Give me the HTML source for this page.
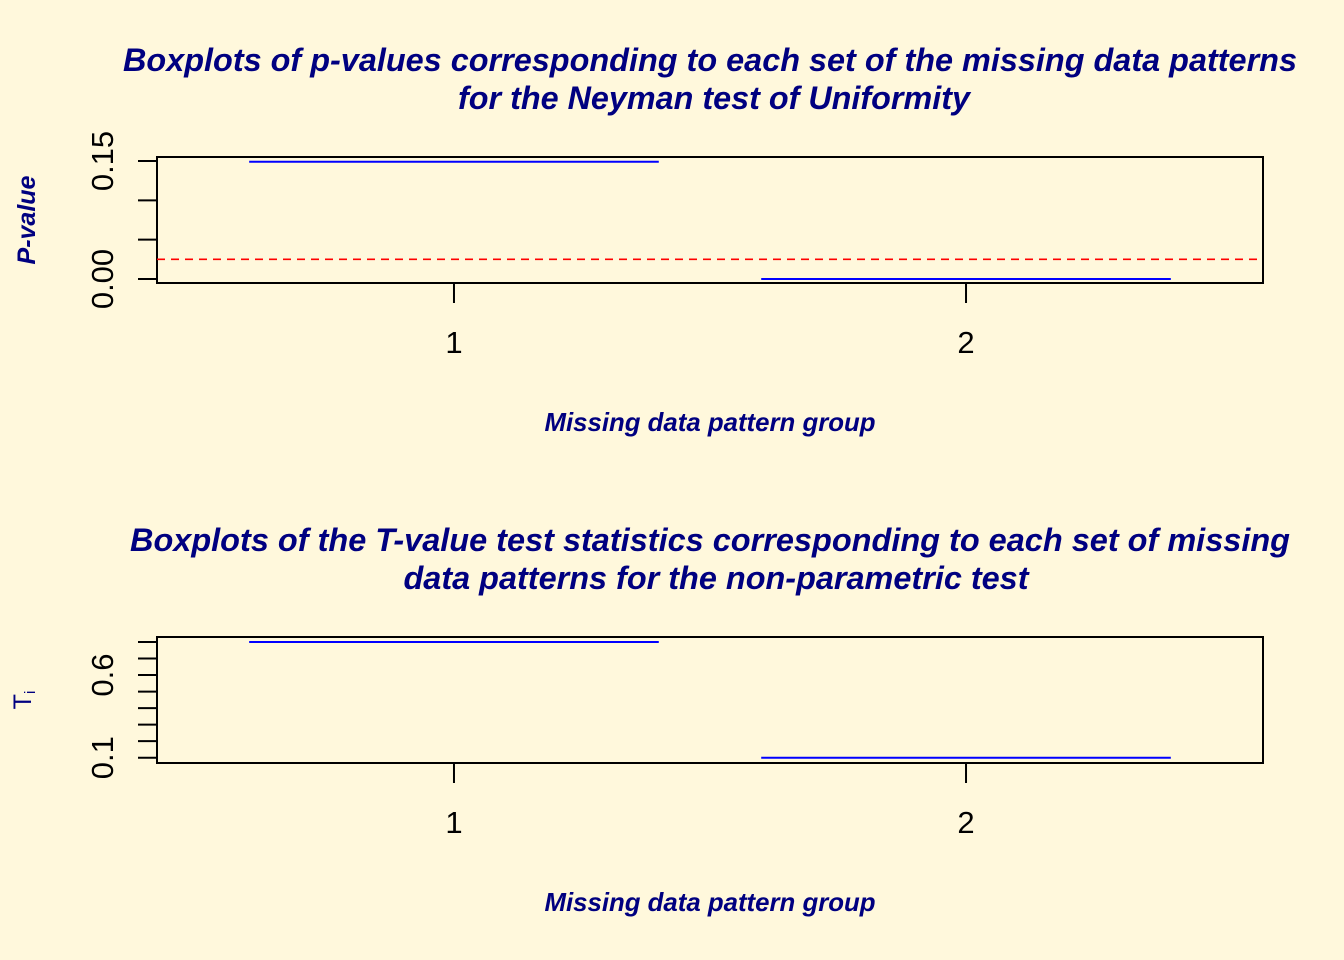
<!DOCTYPE html>
<html><head><meta charset="utf-8"><style>
html,body{margin:0;padding:0;background:#FFF8DC;}
svg{display:block;font-family:"Liberation Sans",Arial,sans-serif;}
.t{fill:#000080;font-weight:bold;font-style:italic;font-size:32px;}
.xl{fill:#000080;font-weight:bold;font-style:italic;font-size:25.8px;}
.tk{fill:#000;font-size:31px;}
</style></head><body>
<svg id="c" width="1344" height="960">
<rect width="1344" height="960" fill="#FFF8DC"/>
</svg>
<script>
const groups=[1,2];
const pvalues=[0.149,0.0];
const pThreshold=0.025;
const pTicks=[0,0.05,0.1,0.15];
const pTickLabels=["0.00","","","0.15"];
const tvalues=[0.8,0.1];
const tTicks=[0.1,0.2,0.3,0.4,0.5,0.6,0.7,0.8];
const tTickLabels=["0.1","","","","","0.6","",""];
const svg=document.getElementById('c');
const NS='http://www.w3.org/2000/svg';
function mk(tag,attrs,parent){const e=document.createElementNS(NS,tag);for(const k in attrs)e.setAttribute(k,attrs[k]);(parent||svg).appendChild(e);return e;}
const X0=157,X1=1263,xmin=0.42,xmax=2.58;
const xs=v=>X0+(v-xmin)/(xmax-xmin)*(X1-X0);
function panel(o){
  const g=mk('g',{});
  
  
  const ys=v=>o.y0+(v-o.v0)/(o.v1-o.v0)*(o.y1-o.y0);
  o.title.forEach((s,i)=>{const t=mk('text',{x:o.tx[i],y:o.ty+i*38,'text-anchor':'middle',class:'t',textLength:o.tw[i],lengthAdjust:'spacingAndGlyphs'},g);t.textContent=s;
    });
  const box=mk('rect',{x:X0,y:o.top,width:X1-X0,height:o.bot-o.top,fill:'none',stroke:'#000','stroke-width':2},g);
  
  o.ticks.forEach((v,i)=>{const y=ys(v);mk('line',{x1:X0-19,x2:X0,y1:y,y2:y,stroke:'#000','stroke-width':2},g);
    if(o.labels[i]){const t=mk('text',{x:113,y:y,'text-anchor':'middle',class:'tk',transform:`rotate(-90 113 ${y})`},g);t.textContent=o.labels[i];
      }});
  groups.forEach((gv,i)=>{const x=xs(gv);
    mk('line',{x1:x,x2:x,y1:o.bot,y2:o.bot+20,stroke:'#000','stroke-width':2},g);
    const t=mk('text',{x:x,y:o.bot+70,'text-anchor':'middle',class:'tk'},g);t.textContent=gv;
    
    const y=ys(o.vals[i]);
    const l=mk('line',{x1:xs(gv-0.4),x2:xs(gv+0.4),y1:y,y2:y,stroke:'#0000FF','stroke-width':2},g);
    });
  if(o.thr!=null){const y=ys(o.thr);const l=mk('line',{x1:X0,x2:X1,y1:y,y2:y,stroke:'#FF0000','stroke-width':1.6,'stroke-dasharray':'8 6'},g);
    }
  const xl=mk('text',{x:710,y:o.bot+148,'text-anchor':'middle',class:'xl',textLength:331,lengthAdjust:'spacingAndGlyphs'},g);xl.textContent='Missing data pattern group';
  
  return g;
}
panel({name:'pvalue-panel',title:['Boxplots of p-values corresponding to each set of the missing data patterns','for the Neyman test of Uniformity'],ty:71,tx:[710,714],tw:[1174,512],
  top:157,bot:283,v0:0,v1:0.15,y0:279,y1:161,ticks:pTicks,labels:pTickLabels,vals:pvalues,thr:pThreshold});
panel({name:'tvalue-panel',title:['Boxplots of the T-value test statistics corresponding to each set of missing','data patterns for the non-parametric test'],ty:551,tx:[710,716],tw:[1160,625],
  top:637,bot:763,v0:0.1,v1:0.8,y0:757.7,y1:642,ticks:tTicks,labels:tTickLabels,vals:tvalues,thr:null});
const yl=mk('text',{x:35,y:220,'text-anchor':'middle',transform:'rotate(-90 35 220)',fill:'#000080','font-weight':'bold','font-style':'italic','font-size':'25px'});
yl.textContent='P-value';


const y2=mk('text',{x:31,y:700,'text-anchor':'middle',transform:'rotate(-90 31 700)',fill:'#000080','font-size':'25px'});
y2.innerHTML='T<tspan font-size="15" dy="4">i</tspan>';


</script>
</body></html>
